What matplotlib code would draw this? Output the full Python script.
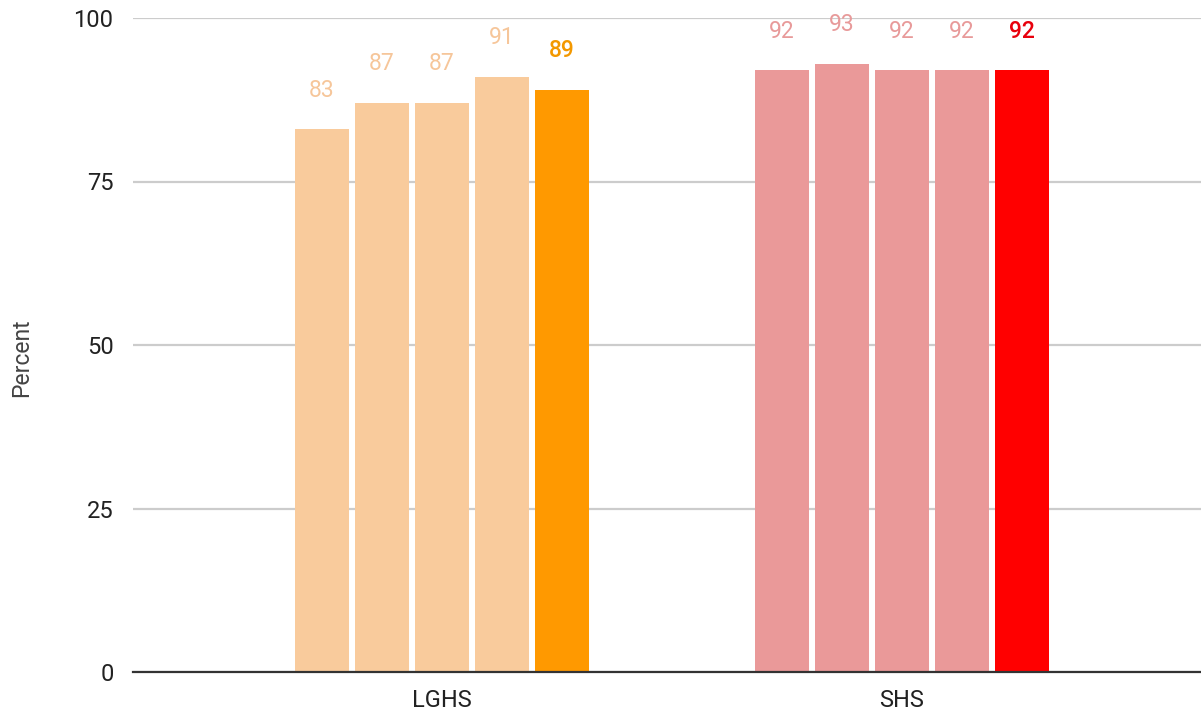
import matplotlib
matplotlib.use("Agg")
import matplotlib.pyplot as plt
import numpy as np

plt.rcParams['font.family'] = ['Roboto', 'DejaVu Sans']

categories = ["LGHS", "SHS"]
series_values = [
    [83, 92],
    [87, 93],
    [87, 92],
    [91, 92],
    [89, 92],
]
bar_colors = [
    ["#F9CB9C", "#EA9999"],
    ["#F9CB9C", "#EA9999"],
    ["#F9CB9C", "#EA9999"],
    ["#F9CB9C", "#EA9999"],
    ["#FF9900", "#FF0000"],
]
label_colors = [
    ["#F6C69A", "#E89A9A"],
    ["#F6C69A", "#E89A9A"],
    ["#F6C69A", "#E89A9A"],
    ["#F6C69A", "#E89A9A"],
    ["#F39800", "#E8000C"],
]
yticks = [0, 25, 50, 75, 100]
ylabel = "Percent"

W, H = 1201, 714
fig = plt.figure(figsize=(W / 100, H / 100), dpi=100)
ax = fig.add_axes([133 / W, 42 / H, 1068 / W, 654 / H])

pitch = 60 / 460
width = 54 / 460
x = np.arange(len(categories))
n = len(series_values)
for i, vals in enumerate(series_values):
    xs = x + (i - (n - 1) / 2) * pitch
    bars = ax.bar(xs, vals, width=width, color=bar_colors[i], zorder=3)
    for xi, v, c in zip(xs, vals, label_colors[i]):
        ax.annotate(f"{v}", (xi, v), xytext=(0, 23.5), textcoords="offset points",
                    ha="center", va="baseline", fontsize=16.5, color=c,
                    fontweight="medium" if i == n - 1 else "normal", zorder=4)

ax.set_xlim(-309 / 460, 759 / 460)
ax.set_ylim(0, 100)
ax.set_yticks(yticks)
ax.set_yticklabels([str(t) for t in yticks], fontsize=17, color="#222222")
ax.set_xticks(x)
ax.set_xticklabels(categories, fontsize=17, color="#222222")
ax.tick_params(axis="y", length=0, pad=14)
ax.tick_params(axis="x", length=0, pad=12)
ax.grid(axis="y", color="#CCCCCC", linewidth=1.6, zorder=0)
ax.set_axisbelow(True)
for s in ["top", "right", "left"]:
    ax.spines[s].set_visible(False)
ax.spines["bottom"].set_color("#333333")
ax.spines["bottom"].set_linewidth(1.6)
ax.spines["bottom"].set_zorder(5)

fig.text(22 / W, 1 - 358 / H, ylabel, rotation=90, ha="center", va="center",
         fontsize=16.5, color="#444444")

fig.savefig("out.png", dpi=100)
